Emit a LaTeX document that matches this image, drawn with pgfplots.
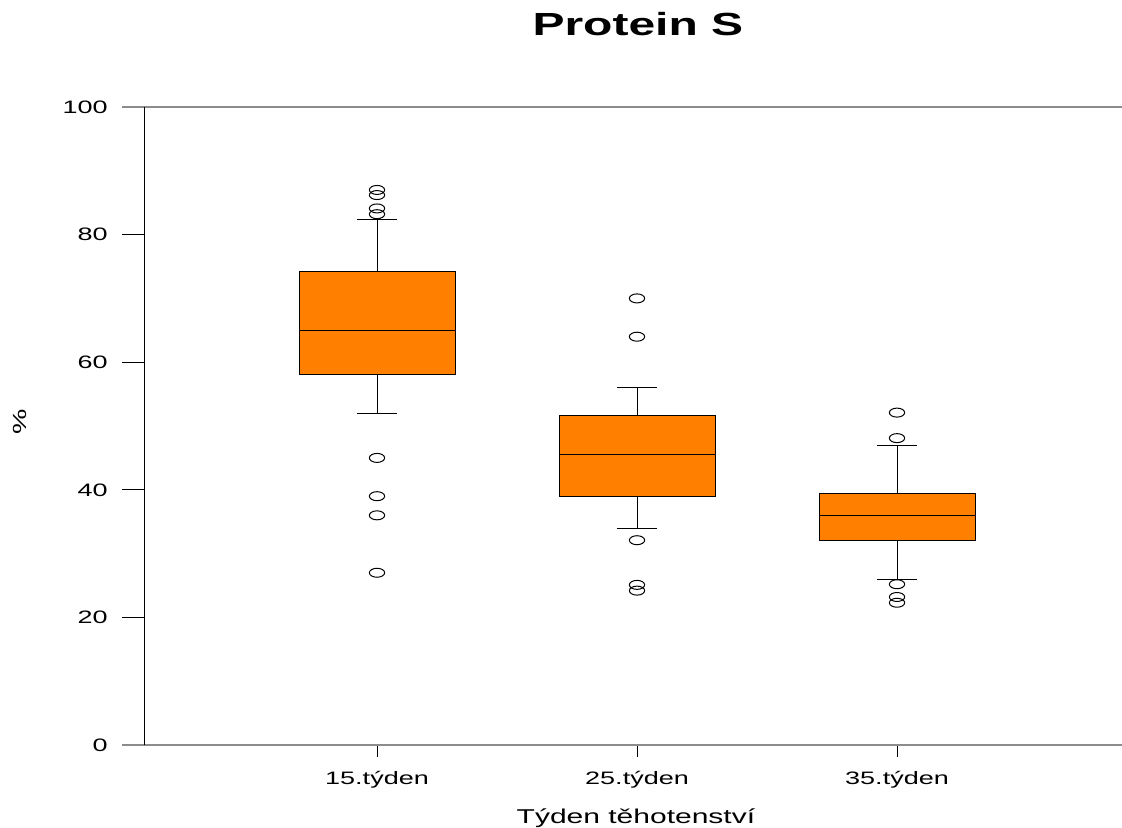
\documentclass[border=0pt]{standalone}
\usepackage{fontspec}
\setmainfont{Liberation Sans}[FakeStretch=1.5]
\usepackage{pgfplots}
\pgfplotsset{compat=1.18}
\usepgfplotslibrary{statistics}
\definecolor{boxorange}{HTML}{FF8000}
\definecolor{framegray}{HTML}{8C8C8C}
\begin{document}
\begin{tikzpicture}
\begin{axis}[
  at={(0,0)}, anchor=south west,
  scale only axis, width=489pt, height=319pt,
  xmin=0.1038, xmax=3.8654, ymin=0, ymax=100,
  axis line style={draw=none},
  ytick={0,20,...,100},
  xtick={1,2,3}, xticklabels={15.týden,25.týden,35.týden},
  xtick pos=bottom, ytick pos=left,
  tick align=outside,
  major tick length=11pt,
  xtick style={/pgfplots/major tick length=6pt},
  tick style={black, line width=0.5pt},
  /pgf/number format/assume math mode=true,
  yticklabel style={font=\fontsize{9}{10}\selectfont, anchor=east, inner sep=0pt, xshift=-7pt},
  xticklabel style={font=\fontsize{9}{10}\selectfont, anchor=base, inner sep=0pt, yshift=-8.5pt},
  xlabel={Týden těhotenství},
  xlabel style={font=\fontsize{10}{12}\selectfont, at={(rel axis cs:0.503,0)}, anchor=base, inner sep=0pt, yshift=-39pt},
  ylabel={\%},
  ylabel style={font=\fontsize{9.5}{10}\selectfont, at={(rel axis cs:0,0.506)}, anchor=center, inner sep=0pt, yshift=62pt},
  title={Protein S},
  title style={font=\bfseries\fontsize{16}{19}\selectfont, at={(rel axis cs:0.505,1)}, anchor=base, inner sep=0pt, yshift=30pt},
  clip=false,
  boxplot/draw direction=y,
  boxplot/box extend=0.6,
  boxplot/whisker extend=0.154,
  boxplot/every median/.style={black, line width=0.5pt},
  boxplot/every whisker/.style={black, line width=0.5pt},
  boxplot/every box/.style={fill=boxorange, draw=black, line width=0.5pt},
]
\addplot[boxplot prepared={draw position=1, lower whisker=52, lower quartile=58, median=65, upper quartile=74.2, upper whisker=82.4},
  draw=black, mark=o, mark size=2.25pt, mark options={xscale=1.7, black, line width=0.5pt, fill=none, solid}]
  table[row sep=\\, y index=0] {data\\87\\86.2\\84.1\\83.2\\45\\39\\36\\27\\};
\addplot[boxplot prepared={draw position=2, lower whisker=34, lower quartile=39, median=45.5, upper quartile=51.7, upper whisker=56},
  draw=black, mark=o, mark size=2.25pt, mark options={xscale=1.7, black, line width=0.5pt, fill=none, solid}]
  table[row sep=\\, y index=0] {data\\70\\64\\32.1\\25.1\\24.2\\};
\addplot[boxplot prepared={draw position=3, lower whisker=26, lower quartile=32, median=36, upper quartile=39.4, upper whisker=47},
  draw=black, mark=o, mark size=2.25pt, mark options={xscale=1.7, black, line width=0.5pt, fill=none, solid}]
  table[row sep=\\, y index=0] {data\\52.1\\48.1\\25.2\\23.2\\22.3\\};
\end{axis}
\draw[framegray, line width=1pt] (-11pt,0) -- (489pt,0);
\draw[framegray, line width=1pt] (-11pt,319pt) -- (489pt,319pt);
\draw[black, line width=0.5pt] (0,0) -- (0,319pt);
\pgfresetboundingbox
\path[use as bounding box] (-72pt,-41pt) rectangle (489pt,372.5pt);
\end{tikzpicture}
\end{document}
